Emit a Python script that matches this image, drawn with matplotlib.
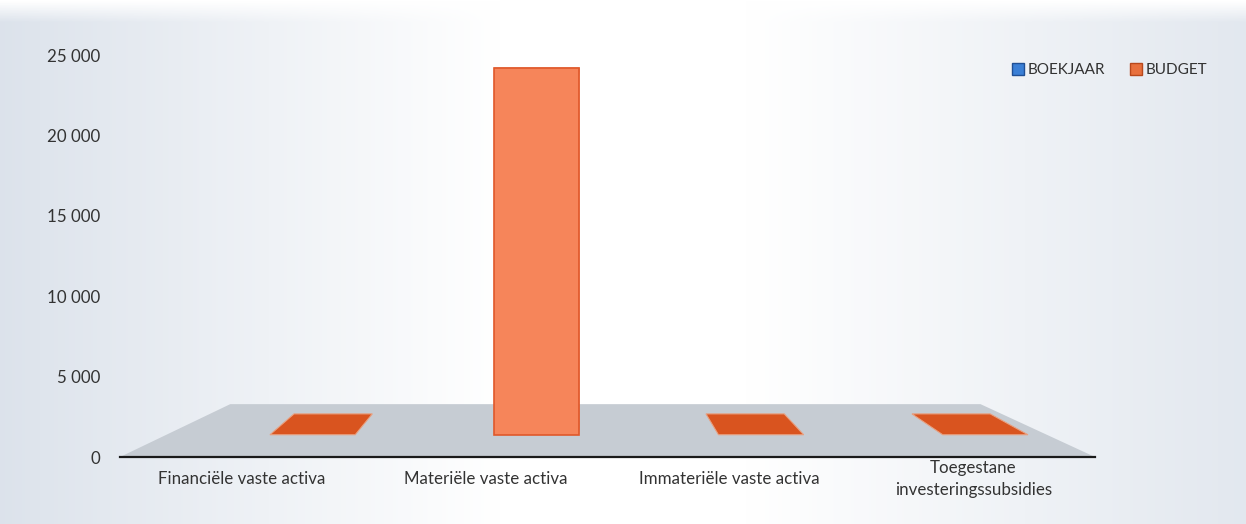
import numpy as np
import matplotlib
matplotlib.use('Agg')
import matplotlib.pyplot as plt
from matplotlib.patches import Polygon, Patch
from matplotlib.ticker import FuncFormatter

plt.rcParams['font.family'] = ['Lato', 'DejaVu Sans']

categories = ['Financiële vaste activa', 'Materiële vaste activa',
              'Immateriële vaste activa', 'Toegestane\ninvesteringssubsidies']
boekjaar = [np.nan, np.nan, np.nan, np.nan]
budget = [0, 24800, 0, 0]
series_names = ['BOEKJAAR', 'BUDGET']
yticks = [0, 5000, 10000, 15000, 20000, 25000]

# fake 3d: every point is pulled toward a vanishing point by depth s
vx, vy = 1.826, 17300
def P(x, s, z):
    return (x + s * (vx - x), z + s * (vy - z))

fig = plt.figure(figsize=(12.46, 5.24), dpi=100)

# scanned background, grey-blue at the sides
bg = fig.add_axes([0, 0, 1, 1])
xx = np.linspace(0, 1, 400)
yy = np.linspace(0, 1, 200)
X, Y = np.meshgrid(xx, yy)
f = np.clip(1 - X / 0.4, 0, 1) * 0.85 + np.clip((X - 0.6) / 0.4, 0, 1) * 0.7
f = f * np.clip((Y - 0.0) / 0.04, 0, 1)
grey = np.array([0.84, 0.87, 0.91])
img = 1 - f[..., None] * (1 - grey)
bg.imshow(img, extent=[0, 1, 0, 1], aspect='auto')
bg.axis('off')

ax = fig.add_axes([120 / 1246, 67 / 524, 975 / 1246, 402 / 524])
ax.set_facecolor('none')
ax.set_xlim(0, 4)
ax.set_ylim(0, 25000)

# floor
sb = 0.19
floor = [P(0, 0, 0), P(4, 0, 0), P(3.93, sb, 0), P(0.13, sb, 0)]
ax.add_patch(Polygon(floor, closed=True, fc='#c6ccd3', ec='none', zorder=1))

s0, s1 = 0.08, 0.155
w = 0.38
for i, v in enumerate(budget):
    if np.isnan(v):
        continue
    c = i + 0.7
    a, b = c - w / 2, c + w / 2
    top = [P(a, s0, v), P(b, s0, v), P(b, s1, v), P(a, s1, v)]
    ax.add_patch(Polygon(top, closed=True, fc='#d9541f', ec='#e8a080', lw=0.8, zorder=2))
    if v > 0:
        side = [P(b, s0, 0), P(b, s1, 0), P(b, s1, v), P(b, s0, v)]
        ax.add_patch(Polygon(side, closed=True, fc='#e2602e', ec='none', zorder=2))
        front = [P(a, s0, 0), P(b, s0, 0), P(b, s0, v), P(a, s0, v)]
        ax.add_patch(Polygon(front, closed=True, fc='#f6855a', ec='#e0582a', lw=1.2, zorder=3))

for sp in ['top', 'right', 'left']:
    ax.spines[sp].set_visible(False)
ax.spines['bottom'].set_color('#1a1a1a')
ax.spines['bottom'].set_linewidth(1.6)
ax.spines['bottom'].set_zorder(4)

ax.set_yticks(yticks)
ax.yaxis.set_major_formatter(FuncFormatter(lambda v, p: '{:,.0f}'.format(v).replace(',', ' ')))
ax.tick_params(axis='y', length=0, pad=14, labelsize=12.2, labelcolor='#333333')
ax.set_xticks([i + 0.5 for i in range(4)])
ax.set_xticklabels(categories)
ax.tick_params(axis='x', length=0, pad=16, labelsize=12.2, labelcolor='#333333')
for lbl in ax.get_xticklabels():
    lbl.set_va('center')
    lbl.set_linespacing(1.45)

handles = [Patch(fc='#3a7fd6', ec='#1f4f95', label=series_names[0]),
           Patch(fc='#e8703d', ec='#b8481c', label=series_names[1])]
fig.legend(handles=handles, loc='center left', bbox_to_anchor=(998 / 1246, 1 - 70 / 524),
           ncol=2, frameon=False, fontsize=11, handlelength=0.8, handleheight=0.8,
           handletextpad=0.25, columnspacing=1.6, labelcolor='#333333')

fig.savefig('out.png', dpi=100)
